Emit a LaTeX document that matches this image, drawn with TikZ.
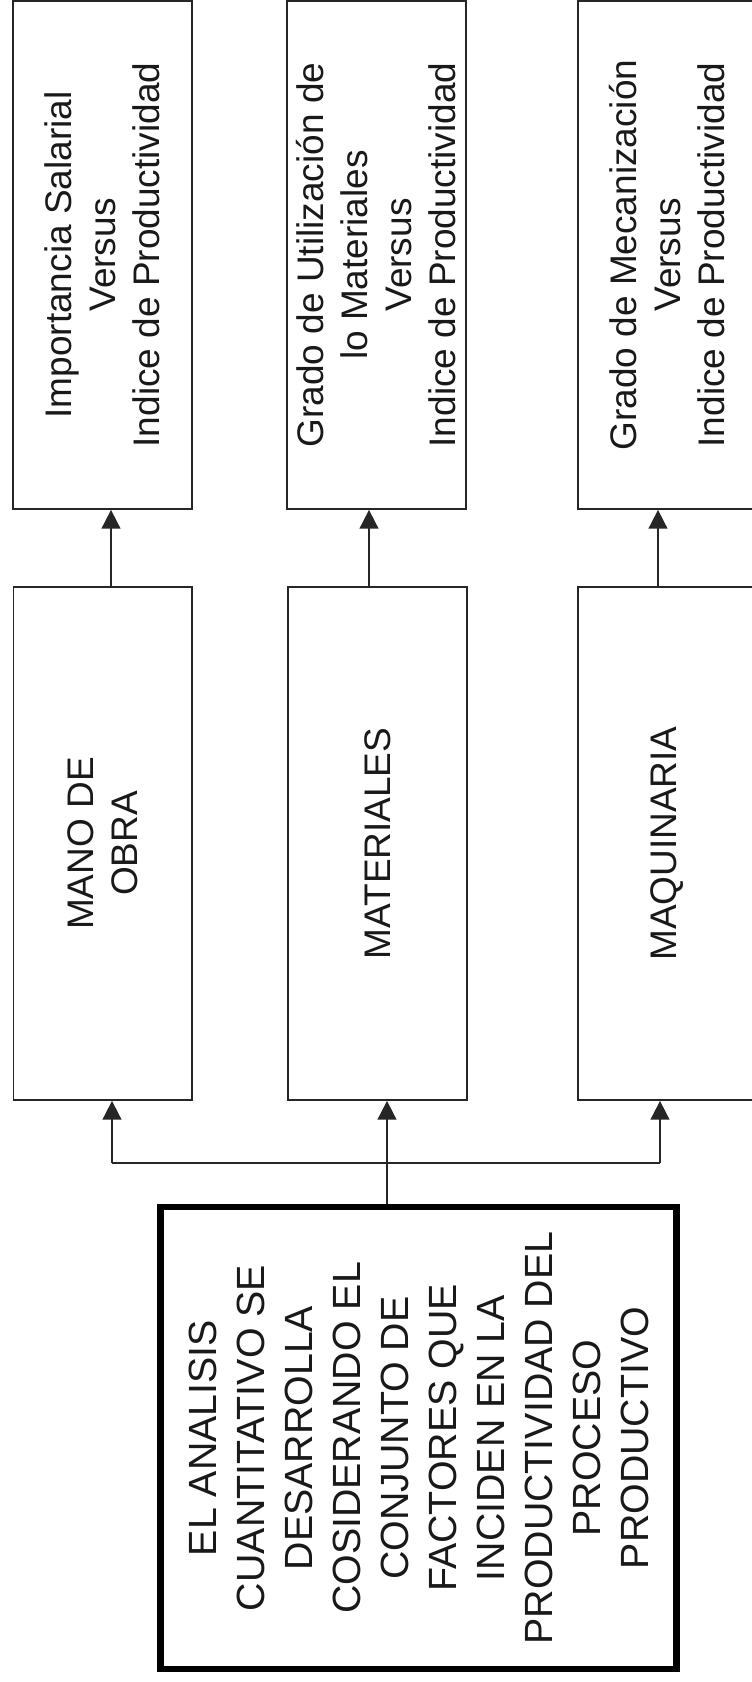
\documentclass[tikz,border=0pt]{standalone}
\usepackage{fontspec}
\setmainfont{Liberation Sans}
\usetikzlibrary{arrows.meta}
\begin{document}
\begin{tikzpicture}[x=0.75pt,y=-0.75pt,
  box/.style={draw=black!85, line width=1.3pt, rectangle, inner sep=0pt, minimum width=134pt},
  topbox/.style={box, minimum height=381pt},
  midbox/.style={box, minimum height=384.75pt},
  mainbox/.style={draw=black, line width=4.8pt, rectangle, inner sep=0pt, minimum width=387pt, minimum height=346.5pt},
  txt/.style={rotate=90, align=center, font=\fontsize{27.75pt}{33pt}\selectfont, inner sep=0pt, text=black!90},
  maintxt/.style={rotate=90, align=center, font=\fontsize{29.5pt}{36pt}\selectfont, inner sep=0pt, text=black!90},
  conn/.style={draw=black!85, line width=1.3pt},
  arr/.style={conn, -{Triangle[width=14pt,length=14pt]}}]
\useasboundingbox (0,0) rectangle (752,1682);
\fill[white] (0,0) rectangle (752,1682);

% top boxes
\node[topbox] (t1) at (102.5,255) {};
\node[topbox] (t2) at (376.5,255) {};
\node[topbox] (t3) at (667,255) {};
\node[txt] (t1l) at (t1) {Importancia Salarial\\Versus\\Indice de Productividad};
\node[txt] (t2l) at (t2) {Grado de Utilización de\\lo Materiales\\Versus\\Indice de Productividad};
\node[txt] (t3l) at (t3) {Grado de Mecanización\\Versus\\Indice de Productividad};

% middle boxes
\node[midbox] (m1) at (102.75,843.5) {};
\node[midbox] (m2) at (377.5,843.5) {};
\node[midbox] (m3) at (667.5,843.5) {};
\node[txt] (m1l) at (m1) {MANO DE\\OBRA};
\node[txt] (m2l) at (m2) {MATERIALES};
\node[txt] (m3l) at (m3) {MAQUINARIA};

% main box
\node[mainbox] (main) at (418.5,1438) {};
\node[maintxt] (mainl) at (main) {EL ANALISIS\\CUANTITATIVO SE\\DESARROLLA\\COSIDERANDO EL\\CONJUNTO DE\\FACTORES QUE\\INCIDEN EN LA\\PRODUCTIVIDAD DEL\\PROCESO\\PRODUCTIVO};

% connectors
\coordinate (h1) at (112,1163);
\coordinate (h2) at (387,1163);
\coordinate (h3) at (660,1163);
\draw[conn] (main.north -| h2) -- (h2);
\draw[conn] (h1) -- (h3);
\draw[arr] (h1) -- (h1 |- m1.south);
\draw[arr] (h2) -- (h2 |- m2.south);
\draw[arr] (h3) -- (h3 |- m3.south);

\coordinate (v1) at (111,0);
\coordinate (v2) at (369,0);
\coordinate (v3) at (658,0);
\draw[arr] (v1 |- m1.north) -- (v1 |- t1.south);
\draw[arr] (v2 |- m2.north) -- (v2 |- t2.south);
\draw[arr] (v3 |- m3.north) -- (v3 |- t3.south);
\end{tikzpicture}
\end{document}
